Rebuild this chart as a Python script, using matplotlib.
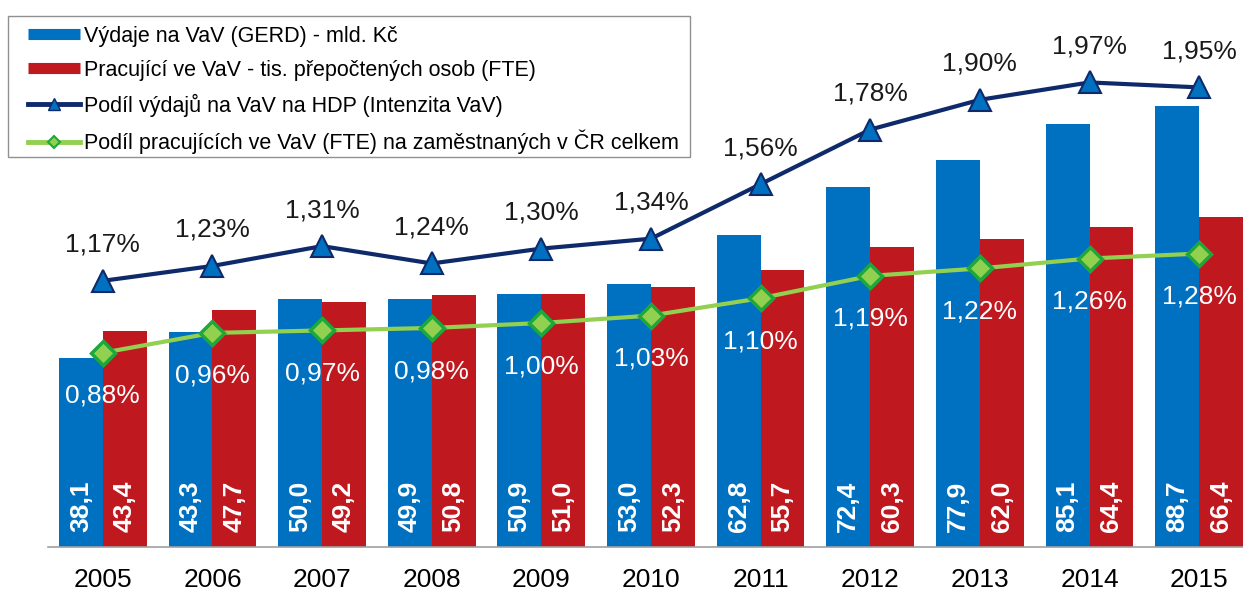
import numpy as np
import matplotlib
matplotlib.use("Agg")
import matplotlib.pyplot as plt
from matplotlib.lines import Line2D
from matplotlib.patches import Rectangle

plt.rcParams['font.family'] = ['Liberation Sans', 'DejaVu Sans']

# data
years = ['2005', '2006', '2007', '2008', '2009', '2010', '2011', '2012', '2013', '2014', '2015']
gerd = [38.1, 43.3, 50.0, 49.9, 50.9, 53.0, 62.8, 72.4, 77.9, 85.1, 88.7]
fte = [43.4, 47.7, 49.2, 50.8, 51.0, 52.3, 55.7, 60.3, 62.0, 64.4, 66.4]
gerd_gdp = [1.17, 1.23, 1.31, 1.24, 1.30, 1.34, 1.56, 1.78, 1.90, 1.97, 1.95]
fte_share = [0.88, 0.96, 0.97, 0.98, 1.00, 1.03, 1.10, 1.19, 1.22, 1.26, 1.28]

labels = [
    'Výdaje na VaV (GERD) - mld. Kč',
    'Pracující ve VaV - tis. přepočtených osob (FTE)',
    'Podíl výdajů na VaV na HDP (Intenzita VaV)',
    'Podíl pracujících ve VaV (FTE) na zaměstnaných v ČR celkem',
]

BLUE = '#0070C0'
RED = '#C0181F'
NAVY = '#0F2A6B'
LGREEN = '#92D050'
DGREEN = '#1EA83C'


def fmt(v, nd):
    return f'{v:.{nd}f}'.replace('.', ',')


W, H = 1243, 590
fig = plt.figure(figsize=(W / 100, H / 100), dpi=100)
ax = fig.add_axes([48 / W, 1 - 547 / H, (W - 48) / W, 547 / H])
ax2 = ax.twinx()

x = np.arange(len(years))
bw = 0.40
ax.bar(x - bw / 2, gerd, bw, color=BLUE, zorder=2)
ax.bar(x + bw / 2, fte, bw, color=RED, zorder=2)

# hodnoty ve sloupcích
for xi, g, f in zip(x, gerd, fte):
    ax.text(xi - bw / 2, 3.0, fmt(g, 1), rotation=90, ha='center', va='bottom',
            color='white', fontsize=19, fontweight='bold', zorder=3)
    ax.text(xi + bw / 2, 3.0, fmt(f, 1), rotation=90, ha='center', va='bottom',
            color='white', fontsize=19, fontweight='bold', zorder=3)

ax.set_xlim(-0.5, 10.4)
ax.set_ylim(0, 547 / 4.97)
ax.set_xticks(x)
ax.set_xticklabels(years, fontsize=19)
ax.tick_params(axis='x', length=0, pad=15)
ax.tick_params(axis='y', left=False, labelleft=False)
for s in ['top', 'right', 'left']:
    ax.spines[s].set_visible(False)
ax.spines['bottom'].set_color('#A0A0A0')
ax.spines['bottom'].set_linewidth(1.2)

# podíly na druhé ose
ax2.plot(x, gerd_gdp, color=NAVY, lw=3, marker='^', ms=16,
         mfc=BLUE, mec=NAVY, mew=1.5, zorder=4)
ax2.plot(x, fte_share, color=LGREEN, lw=3, marker='D', ms=12,
         mfc=LGREEN, mec=DGREEN, mew=2.5, zorder=4)
for xi, v in zip(x, gerd_gdp):
    ax2.annotate(fmt(v, 2) + '%', (xi, v), xytext=(0, 26), textcoords='offset points',
                 ha='center', va='center', fontsize=19, color='#1A1A1A')
for xi, v in zip(x, fte_share):
    ax2.annotate(fmt(v, 2) + '%', (xi, v), xytext=(0, -31), textcoords='offset points',
                 ha='center', va='center', fontsize=19, color='white')

ax2.set_ylim((571 - 547) / 248, 571 / 248)
ax2.set_yticks([])
for s in ax2.spines.values():
    s.set_visible(False)

# rámeček legendy zvlášť, aby šly nastavit okraje
frame = Rectangle((8 / W, 1 - 157 / H), (690 - 8) / W, (157 - 16) / H,
                  transform=fig.transFigure, facecolor='white', edgecolor='#909090',
                  linewidth=1.0, zorder=5)
fig.add_artist(frame)

handles = [
    Line2D([], [], color=BLUE, lw=8, solid_capstyle='butt'),
    Line2D([], [], color=RED, lw=8, solid_capstyle='butt'),
    Line2D([], [], color=NAVY, lw=3.5, marker='^', ms=8, mfc=BLUE, mec=NAVY),
    Line2D([], [], color=LGREEN, lw=3.5, marker='D', ms=6, mfc=LGREEN, mec=DGREEN, mew=1.5),
]
leg = fig.legend(handles, labels, loc='upper left', bbox_to_anchor=(28 / W, 1 - 26 / H),
                 borderaxespad=0, borderpad=0, fontsize=15.5, handlelength=2.42,
                 handletextpad=0.2, labelspacing=0.6, frameon=False)
leg.set_zorder(10)

fig.savefig('out.png', dpi=100)
